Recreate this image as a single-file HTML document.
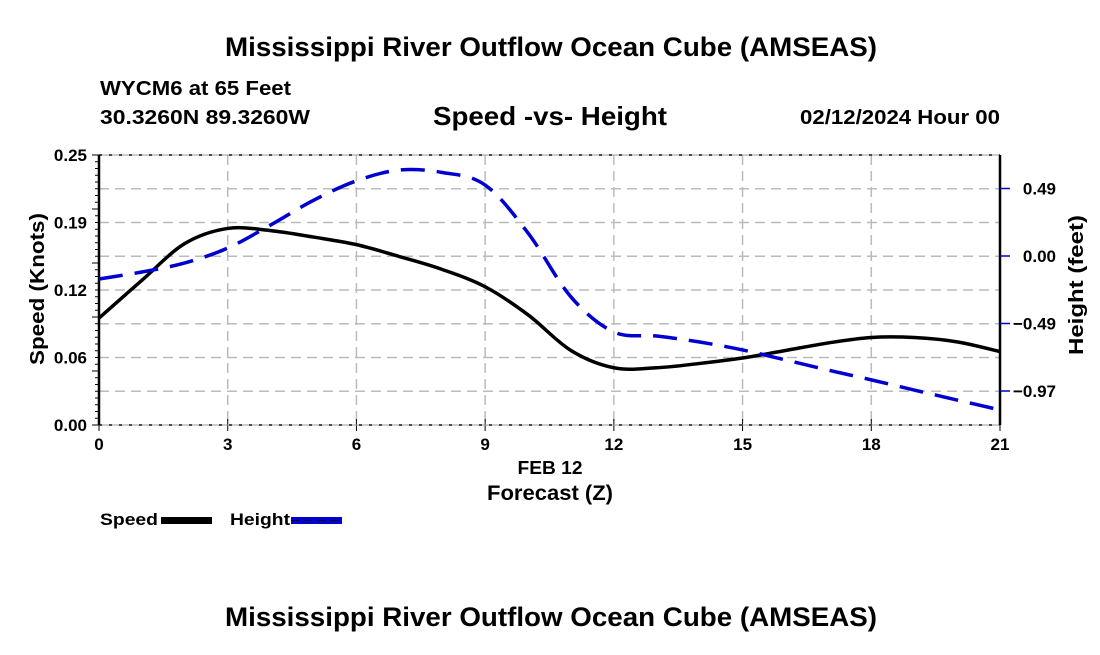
<!DOCTYPE html>
<html><head><meta charset="utf-8"><style>
html,body{margin:0;padding:0;background:#fff;}
svg text{font-family:"Liberation Sans",Arial,sans-serif;font-weight:bold;fill:#000;}
</style></head><body>
<svg id="chart" width="1100" height="650" viewBox="0 0 1100 650" xmlns="http://www.w3.org/2000/svg">
<text x="225" y="56" font-size="27" textLength="652" lengthAdjust="spacingAndGlyphs">Mississippi River Outflow Ocean Cube (AMSEAS)</text>
<text x="100" y="95" font-size="20" textLength="191" lengthAdjust="spacingAndGlyphs">WYCM6 at 65 Feet</text>
<text x="100" y="124" font-size="20" textLength="210" lengthAdjust="spacingAndGlyphs">30.3260N  89.3260W</text>
<text x="433" y="125" font-size="26" textLength="234" lengthAdjust="spacingAndGlyphs">Speed -vs- Height</text>
<text x="800" y="124" font-size="20" textLength="200" lengthAdjust="spacingAndGlyphs">02/12/2024 Hour 00</text>
<g id="grid"></g>
<g id="axes"></g>
<g id="series"></g>
<text transform="translate(44,289) rotate(-90)" font-size="20" text-anchor="middle" textLength="152" lengthAdjust="spacingAndGlyphs">Speed (Knots)</text>
<text transform="translate(1083,285) rotate(-90)" font-size="20" text-anchor="middle" textLength="140" lengthAdjust="spacingAndGlyphs">Height (feet)</text>
<text x="550" y="474" font-size="18" text-anchor="middle" textLength="65" lengthAdjust="spacingAndGlyphs">FEB 12</text>
<text x="550" y="500" font-size="21" text-anchor="middle" textLength="126" lengthAdjust="spacingAndGlyphs">Forecast (Z)</text>
<g>
<text x="100" y="525" font-size="17" textLength="58" lengthAdjust="spacingAndGlyphs">Speed</text>
<rect x="161" y="517" width="51" height="7" fill="#000"/>
<text x="230" y="525" font-size="17" textLength="60" lengthAdjust="spacingAndGlyphs">Height</text>
<rect x="291" y="517" width="51" height="7" fill="#0000d0"/>
<line x1="291" y1="520.5" x2="342" y2="520.5" stroke="#000" stroke-width="1" stroke-dasharray="8,5"/>
</g>
<text x="225" y="626" font-size="27" textLength="652" lengthAdjust="spacingAndGlyphs">Mississippi River Outflow Ocean Cube (AMSEAS)</text>
</svg>
<script>
const hours = [0,1,2,3,4,5,6,7,8,9,10,11,12,13,14,15,16,17,18,19,20,21];
const speed = [0.099,0.134,0.168,0.182,0.180,0.174,0.167,0.156,0.144,0.128,0.102,0.069,0.053,0.053,0.057,0.062,0.069,0.076,0.081,0.081,0.077,0.068];
const height = [-0.165,-0.115,-0.05,0.057,0.223,0.40,0.54,0.618,0.60,0.51,0.165,-0.294,-0.546,-0.575,-0.618,-0.675,-0.747,-0.82,-0.89,-0.963,-1.035,-1.106];
const xTicks = [0,3,6,9,12,15,18,21];
const speedTicks = [0,0.0625,0.125,0.1875,0.25];
const speedTickLabels = ["0.00","0.06","0.12","0.19","0.25"];
const heightTicks = [0.485,0,-0.485,-0.97];
const heightTickLabels = ["0.49","0.00","\u22120.49","\u22120.97"];

const L=99,R=1000,T=155,B=425,NS="http://www.w3.org/2000/svg";
const xs=h=>L+(h-0)/(21-0)*(R-L);
const ys=v=>B-v/0.25*(B-T);
const yh=v=>256-v*(67.5/0.485);
function mk(tag,attrs,parent){const e=document.createElementNS(NS,tag);for(const k in attrs)e.setAttribute(k,attrs[k]);parent.appendChild(e);return e;}
const grid=document.getElementById('grid'),axes=document.getElementById('axes'),series=document.getElementById('series');

for(let i=1;i<8;i++){const y=T+i*(B-T)/8;
 const g=mk('line',{x1:L,x2:R,y1:y,y2:y,stroke:'#bbb','stroke-width':1.5,'stroke-dasharray':'10,6'},grid);
 
 }
xTicks.forEach(t=>{const x=xs(t);
 if(t>0&&t<21){const g=mk('line',{x1:x,x2:x,y1:T,y2:B,stroke:'#bbb','stroke-width':1.5,'stroke-dasharray':'10,6'},grid);
  
  }
 const tk=mk('line',{x1:x,x2:x,y1:B-6,y2:B+6,stroke:'#000','stroke-width':1},axes);
 
 
 const tt=mk('text',{x:x,y:B+25,'font-size':17,'text-anchor':'middle'},axes);tt.textContent=t;
 
 
});
[T,B].forEach(y=>{const a=mk('line',{x1:L,x2:R,y1:y,y2:y,stroke:'#000','stroke-width':2,'stroke-dasharray':'3,7'},axes);
 
 
 const b=mk('line',{x1:L,x2:R,y1:y,y2:y,stroke:'#999','stroke-width':1},axes);
 
 });
const la=mk('line',{x1:L,x2:L,y1:T,y2:B,stroke:'#000','stroke-width':2.5},axes);


const ra=mk('line',{x1:R,x2:R,y1:T,y2:B,stroke:'#000','stroke-width':2.5},axes);


for(let i=0;i<=40;i++){const y=T+i*(B-T)/40;const w=i%8==0?7:4;
 const m=mk('line',{x1:L-w,x2:L,y1:y,y2:y,stroke:'#000','stroke-width':1},axes);
 
 }
speedTicks.forEach((v,i)=>{const t=mk('text',{x:L-12,y:ys(v)+6,'font-size':17,'text-anchor':'end'},axes);t.textContent=speedTickLabels[i];
 
 });
heightTicks.forEach((v,i)=>{const y=yh(v);
 const m=mk('line',{x1:R,x2:R+10,y1:y,y2:y,stroke:'#0000c0','stroke-width':1.5},axes);
 
 
 const t=mk('text',{x:1056,y:y+6,'font-size':17,'text-anchor':'end'},axes);t.textContent=heightTickLabels[i];
 
 });

function smooth(pts){let d=`M${pts[0][0]},${pts[0][1]}`;
 for(let i=0;i<pts.length-1;i++){const p0=pts[i-1]||pts[i],p1=pts[i],p2=pts[i+1],p3=pts[i+2]||p2;
  d+=` C${p1[0]+(p2[0]-p0[0])/6},${p1[1]+(p2[1]-p0[1])/6} ${p2[0]-(p3[0]-p1[0])/6},${p2[1]-(p3[1]-p1[1])/6} ${p2[0]},${p2[1]}`;}
 return d;}
const sp=mk('path',{d:smooth(hours.map((h,i)=>[xs(h),ys(speed[i])])),fill:'none',stroke:'#000','stroke-width':3.5},series);


const hp=mk('path',{d:smooth(hours.map((h,i)=>[xs(h),yh(height[i])])),fill:'none',stroke:'#0000d0','stroke-width':3.5,'stroke-dasharray':'24,12'},series);


</script>
</body></html>
